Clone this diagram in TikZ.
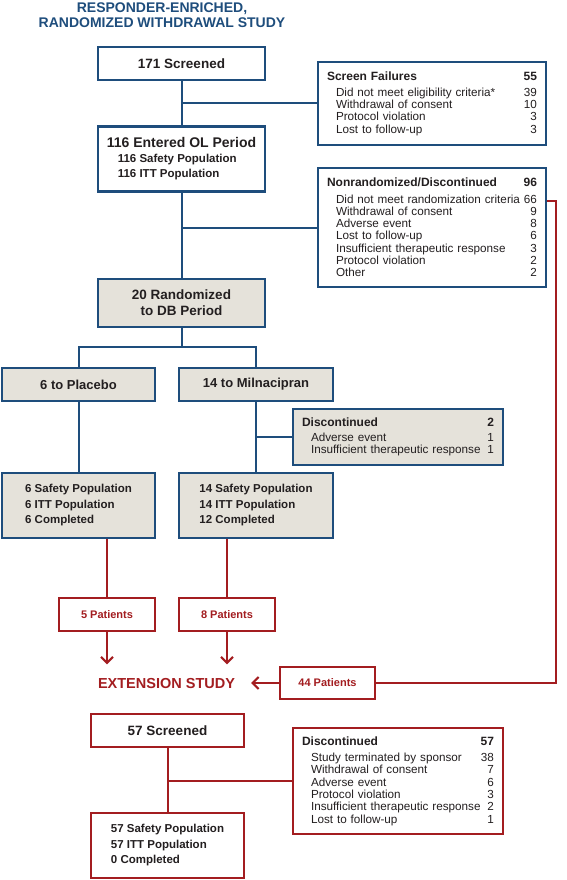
\documentclass[tikz,border=0pt]{standalone}
\usepackage{fontspec}
\setmainfont{Liberation Sans}
\usetikzlibrary{arrows.meta}
\definecolor{studyblue}{HTML}{1E4D7C}
\definecolor{studyred}{HTML}{A31D20}
\definecolor{studygray}{HTML}{E5E2DA}
\definecolor{studytext}{HTML}{231F20}
\newcommand{\hdrline}[2]{{\fontsize{12}{14}\selectfont\bfseries #1\hfill #2}}
\newcommand{\itemline}[2]{\hspace*{9pt}#1\hfill #2}
\tikzset{
    flowbox/.style = {
        draw=studyblue, line width=2.6pt, fill=white, text=studytext, inner sep=0pt, align=center
    },
    shadedbox/.style = {flowbox, fill=studygray},
    redbox/.style = {flowbox, draw=studyred},
    listbox/.style = {
        flowbox, inner xsep=9pt, align=left, font=\fontsize{11.7}{12.3}\selectfont
    },
    bluelink/.style = {draw=studyblue, line width=2pt},
    redlink/.style = {draw=studyred, line width=2pt},
    redarrow/.style = {redlink, -{Straight Barb[length=6pt,width=12pt]}},
}

\begin{document}
\begin{tikzpicture}[x=1pt, y=-1pt]
    \useasboundingbox (0,0) rectangle (567,880);
    % title
    \node[text=studyblue, align=center, font=\fontsize{14}{15}\selectfont\bfseries] (title) at (162,15.5)
        {RESPONDER-ENRICHED,\\RANDOMIZED WITHDRAWAL STUDY};

    % open-label part
    \node[flowbox, minimum width=167pt, minimum height=33pt, font=\fontsize{13.5}{16}\selectfont\bfseries] (scr) at (181.5,63.5) {171 Screened};
    \node[listbox, text width=210pt, minimum height=83pt] (fail) at (432,103.5) {%
        \hdrline{Screen Failures}{55}\\[4pt]
        \itemline{Did not meet eligibility criteria*}{39}\\
        \itemline{Withdrawal of consent}{10}\\
        \itemline{Protocol violation}{3}\\
        \itemline{Lost to follow-up}{3}};
    \node[flowbox, minimum width=167pt, minimum height=65pt, align=left, font=\fontsize{11.5}{15}\selectfont\bfseries] (ol) at (181.5,159) {%
        {\fontsize{14}{16}\selectfont 116 Entered OL Period}\\
        \hspace*{11pt}116 Safety Population\\
        \hspace*{11pt}116 ITT Population};
    \node[listbox, text width=210pt, minimum height=119pt] (nonr) at (432,227.5) {%
        \hdrline{Nonrandomized/Discontinued}{96}\\[4pt]
        \itemline{Did not meet randomization criteria}{66}\\
        \itemline{Withdrawal of consent}{9}\\
        \itemline{Adverse event}{8}\\
        \itemline{Lost to follow-up}{6}\\
        \itemline{Insufficient therapeutic response}{3}\\
        \itemline{Protocol violation}{2}\\
        \itemline{Other}{2}};

    % double-blind part
    \node[shadedbox, minimum width=167pt, minimum height=48pt, font=\fontsize{13.5}{16}\selectfont\bfseries] (rand) at (181.5,303) {20 Randomized\\to DB Period};
    \node[shadedbox, minimum width=153pt, minimum height=33pt, font=\fontsize{13}{16}\selectfont\bfseries] (plac) at (78.5,384.5) {6 to Placebo};
    \node[shadedbox, minimum width=154pt, minimum height=33pt, font=\fontsize{13}{16}\selectfont\bfseries] (miln) at (256,384.5) {14 to Milnacipran};
    \node[listbox, fill=studygray, text width=192pt, minimum height=56pt] (disc) at (398,437) {%
        \hdrline{Discontinued}{2}\\[3pt]
        \itemline{Adverse event}{1}\\
        \itemline{Insufficient therapeutic response}{1}};
    \node[shadedbox, minimum width=153pt, minimum height=65pt, align=left, font=\fontsize{11.5}{15.5}\selectfont\bfseries] (psaf) at (78.5,505.5) {%
        6 Safety Population\\6 ITT Population\\6 Completed};
    \node[shadedbox, minimum width=154pt, minimum height=65pt, align=left, font=\fontsize{11.5}{15.5}\selectfont\bfseries] (msaf) at (256,505.5) {%
        14 Safety Population\\14 ITT Population\\12 Completed};

    % extension study
    \node[redbox, minimum width=96pt, minimum height=33pt, text=studyred, font=\fontsize{11}{13}\selectfont\bfseries] (pfive) at (107,614.5) {5 Patients};
    \node[redbox, minimum width=96pt, minimum height=33pt, text=studyred, font=\fontsize{11}{13}\selectfont\bfseries] (peight) at (227,614.5) {8 Patients};
    \node[text=studyred, inner xsep=16pt, font=\fontsize{14.5}{16}\selectfont\bfseries] (ext) at (166.5,683) {EXTENSION STUDY};
    \node[redbox, minimum width=95pt, minimum height=32pt, text=studyred, font=\fontsize{11}{13}\selectfont\bfseries] (pfour) at (327.5,683) {44 Patients};
    \node[redbox, minimum width=153pt, minimum height=33pt, font=\fontsize{13.5}{16}\selectfont\bfseries] (escr) at (167.5,730.5) {57 Screened};
    \node[listbox, draw=studyred, text width=192pt, minimum height=106pt] (edisc) at (398,781) {%
        \hdrline{Discontinued}{57}\\[4pt]
        \itemline{Study terminated by sponsor}{38}\\
        \itemline{Withdrawal of consent}{7}\\
        \itemline{Adverse event}{6}\\
        \itemline{Protocol violation}{3}\\
        \itemline{Insufficient therapeutic response}{2}\\
        \itemline{Lost to follow-up}{1}};
    \node[redbox, minimum width=153pt, minimum height=65pt, align=left, font=\fontsize{11.5}{15.5}\selectfont\bfseries] (esaf) at (167.5,845.5) {%
        57 Safety Population\\57 ITT Population\\0 Completed};

    % blue connectors
    \draw[bluelink] (scr) -- (ol);
    \draw[bluelink] (scr.south |- fail.west) -- (fail.west);
    \draw[bluelink] (ol) -- (rand);
    \draw[bluelink] (ol.south |- nonr.west) -- (nonr.west);
    \draw[bluelink] (rand.south) -- ++(0,19) coordinate (split);
    \draw[bluelink] (plac.north) |- (split) -| (miln.north);
    \draw[bluelink] (plac) -- (psaf);
    \draw[bluelink] (miln) -- (msaf);
    \draw[bluelink] (miln.south |- disc.west) -- (disc.west);

    % red connectors
    \coordinate (rail) at (556,683);
    \coordinate (fiveend) at ([yshift=-32pt]pfive.south);
    \coordinate (eightend) at ([yshift=-32pt]peight.south);
    \draw[redlink] (pfive.north |- psaf.south) -- (pfive.north);
    \draw[redlink] (peight.north |- msaf.south) -- (peight.north);
    \draw[redarrow] (pfive.south) -- (fiveend);
    \draw[redarrow] (peight.south) -- (eightend);
    \draw[redlink] ([yshift=26.5pt]nonr.east) -| (rail) -- (pfour.east);
    \draw[redarrow] (pfour.west) -- (ext.east);
    \draw[redlink] (escr) -- (esaf);
    \draw[redlink] (escr.south |- edisc.west) -- (edisc.west);
\end{tikzpicture}
\end{document}
